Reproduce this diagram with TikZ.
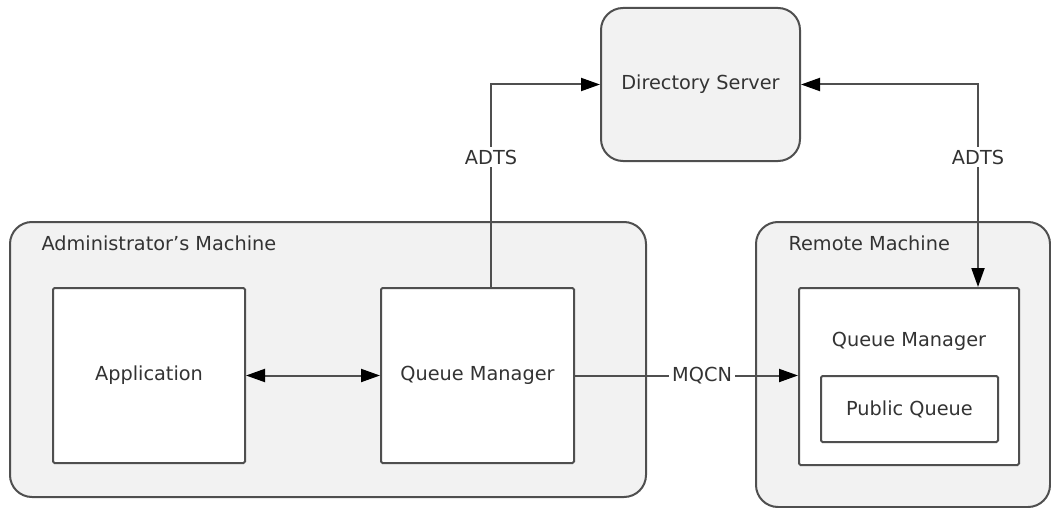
\documentclass[tikz,border=0pt]{standalone}
\usepackage{fontspec}
\setmainfont{DejaVu Sans}
\usetikzlibrary{arrows.meta}
\definecolor{boxfill}{HTML}{F2F2F2}
\definecolor{linegray}{HTML}{4F4F4F}
\definecolor{txt}{HTML}{333333}
\begin{document}
\begin{tikzpicture}[x=1pt,y=-1pt,
  every node/.style={font=\fontsize{19.3}{23}\selectfont, text=txt},
  roundbox/.style={draw=linegray, line width=2pt, fill=boxfill, rounded corners=22pt, inner sep=0pt},
  plainbox/.style={draw=linegray, line width=2pt, fill=white, rounded corners=1.5pt, inner sep=0pt},
  conn/.style={draw=linegray, line width=2pt},
  tip/.style={-{Triangle[length=19pt,width=13pt,color=black]}},
  dtip/.style={{Triangle[length=19pt,width=13pt,color=black]}-{Triangle[length=19pt,width=13pt,color=black]}},
  lbl/.style={fill=white, inner sep=3pt}
]
\useasboundingbox (0,0) rectangle (1051,508);
% containers
\node[roundbox, minimum width=199pt, minimum height=153pt] (ds) at (700.5,84.5) {Directory Server};
\node[roundbox, minimum width=636pt, minimum height=275pt] (admin) at (328,359.5) {};
\node[roundbox, minimum width=294pt, minimum height=285pt] (remote) at (903,364.5) {};
\node[anchor=west] (admintitle) at (38,243) {Administrator’s Machine};
\node[anchor=west] (remotetitle) at (785,243) {Remote Machine};
% inner boxes
\node[plainbox, minimum width=192pt, minimum height=175pt] (app) at (149,375.5) {Application};
\node[plainbox, minimum width=193pt, minimum height=175pt] (qm) at (477.5,375.5) {Queue Manager};
\node[plainbox, minimum width=220pt, minimum height=177pt] (rqm) at (909,376.5) {};
\node (rqmtitle) at (909,341) {Queue Manager};
\node[plainbox, minimum width=177pt, minimum height=66pt] (pq) at (909.5,409) {Public Queue};
% connectors
\coordinate (qmtop) at ([xshift=13.5pt]qm.north);
\coordinate (rqmtop) at ([xshift=69pt]rqm.north);
\draw[conn, tip] (qmtop) |- (ds.west);
\node[lbl] (adts1) at (491,157) {ADTS};
\draw[conn, dtip] (ds.east) -| (rqmtop);
\node[lbl] (adts2) at (978,157) {ADTS};
\draw[conn, dtip] (app.east) -- (qm.west);
\draw[conn, tip] (qm.east) -- node[lbl, pos=0.57] (mqcn) {MQCN} (qm.east -| rqm.west);
\end{tikzpicture}
\end{document}
